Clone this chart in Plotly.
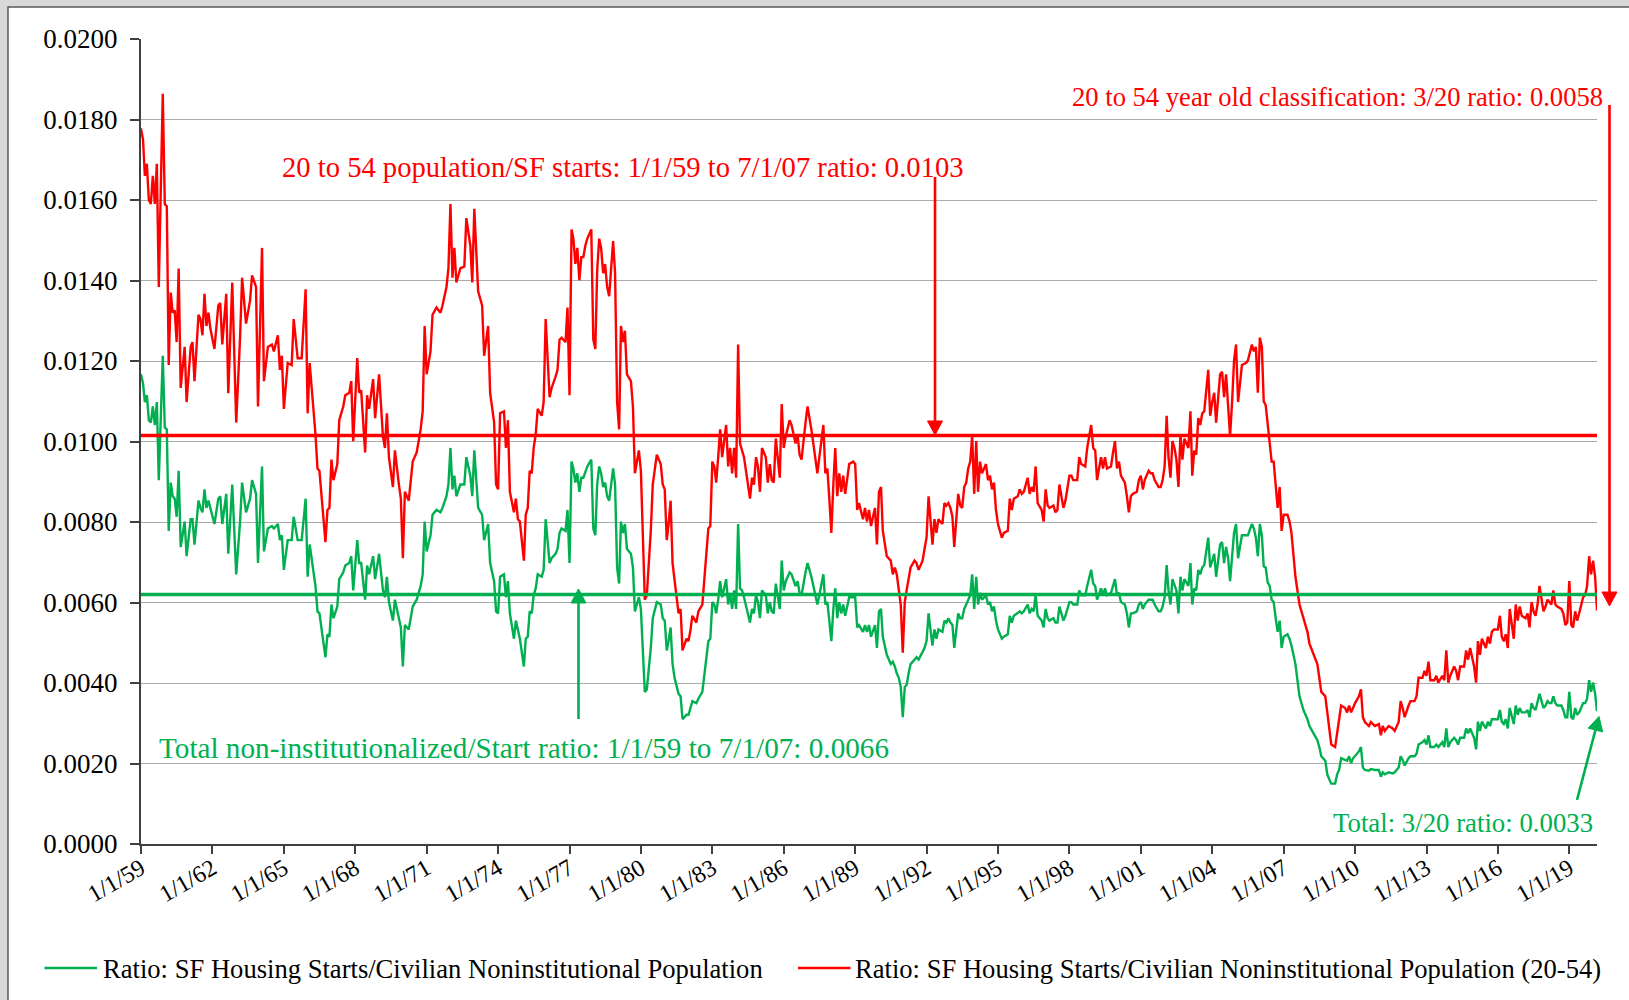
import plotly.graph_objects as go

# ---------------- data ----------------
# monthly observations (values are the ratio x 1000)
dates = [
    "1959-01","1959-02","1959-03","1959-04","1959-05","1959-06","1959-07","1959-08","1959-09","1959-10","1959-12",
    "1960-01","1960-02","1960-03","1960-04","1960-05","1960-06","1960-07","1960-08","1960-09","1960-11","1960-12",
    "1961-02","1961-03","1961-04","1961-06","1961-07","1961-08","1961-09","1961-10","1961-11","1961-12",
    "1962-02","1962-04","1962-05","1962-06","1962-08","1962-09","1962-11",
    "1963-01","1963-03","1963-04","1963-06","1963-08","1963-09","1963-11","1963-12",
    "1964-02","1964-03","1964-05","1964-07","1964-08","1964-10","1964-11","1964-12",
    "1965-01","1965-03","1965-05","1965-06","1965-08","1965-10","1965-12",
    "1966-01","1966-02","1966-05","1966-06","1966-07","1966-10","1966-11","1966-12",
    "1967-01","1967-02","1967-04","1967-05","1967-07","1967-08","1967-10","1967-11","1967-12",
    "1968-02","1968-03","1968-04","1968-06","1968-07","1968-08","1968-10","1968-11",
    "1969-01","1969-03","1969-04","1969-05","1969-06","1969-08","1969-09","1969-11","1969-12",
    "1970-01","1970-02","1970-04","1970-06","1970-08","1970-10","1970-11","1970-12",
    "1971-01","1971-03","1971-04","1971-06","1971-08","1971-09","1971-11","1971-12",
    "1972-01","1972-02","1972-03","1972-04","1972-06","1972-08","1972-09","1972-11","1972-12",
    "1973-01","1973-03","1973-05","1973-06","1973-08","1973-09","1973-11","1973-12",
    "1974-01","1974-02","1974-04","1974-05","1974-06","1974-07","1974-09","1974-10","1974-11","1974-12",
    "1975-02","1975-03","1975-04","1975-05","1975-06","1975-07","1975-08","1975-09","1975-11","1975-12",
    "1976-01","1976-03","1976-04","1976-06","1976-07","1976-08","1976-09","1976-11","1976-12",
    "1977-01","1977-02","1977-03","1977-04","1977-05","1977-06","1977-07","1977-08","1977-09","1977-10","1977-12",
    "1978-01","1978-02","1978-03","1978-04","1978-05","1978-06","1978-07","1978-08","1978-09","1978-11","1978-12",
    "1979-01","1979-02","1979-03","1979-04","1979-05","1979-06","1979-08","1979-09","1979-10","1979-12",
    "1980-01","1980-02","1980-03","1980-04","1980-06","1980-07","1980-09","1980-11","1980-12",
    "1981-01","1981-02","1981-03","1981-04","1981-05","1981-06","1981-08","1981-09","1981-10","1981-12",
    "1982-01","1982-02","1982-03","1982-05","1982-06","1982-08","1982-09","1982-11","1982-12",
    "1983-01","1983-02","1983-03","1983-04","1983-05","1983-06","1983-08","1983-09","1983-10","1983-11","1983-12",
    "1984-01","1984-02","1984-03","1984-04","1984-05","1984-07","1984-08","1984-09","1984-10","1984-11","1984-12",
    "1985-01","1985-02","1985-04","1985-05","1985-06","1985-07","1985-08","1985-09","1985-11","1985-12",
    "1986-01","1986-02","1986-04","1986-05","1986-07","1986-08","1986-09","1986-10","1986-12",
    "1987-01","1987-03","1987-04","1987-05","1987-06","1987-07","1987-09","1987-10","1987-11","1987-12",
    "1988-01","1988-02","1988-03","1988-04","1988-05","1988-06","1988-07","1988-08","1988-09","1988-10","1988-12",
    "1989-01","1989-02","1989-03","1989-05","1989-06","1989-07","1989-08","1989-09","1989-11","1989-12",
    "1990-01","1990-02","1990-03","1990-05","1990-07","1990-08","1990-09","1990-10","1990-11","1990-12",
    "1991-01","1991-02","1991-03","1991-04","1991-05","1991-07","1991-08","1991-09","1991-11","1991-12",
    "1992-01","1992-02","1992-03","1992-04","1992-05","1992-06","1992-07","1992-09","1992-10","1992-11","1992-12",
    "1993-01","1993-02","1993-03","1993-05","1993-06","1993-07","1993-08","1993-09","1993-10","1993-11","1993-12",
    "1994-01","1994-02","1994-03","1994-04","1994-05","1994-07","1994-08","1994-09","1994-10","1994-11","1994-12",
    "1995-01","1995-03","1995-04","1995-06","1995-07","1995-08","1995-09","1995-11","1995-12",
    "1996-01","1996-02","1996-04","1996-05","1996-06","1996-07","1996-08","1996-09","1996-11","1996-12",
    "1997-01","1997-02","1997-03","1997-05","1997-06","1997-07","1997-08","1997-10","1997-11",
    "1998-01","1998-02","1998-03","1998-05","1998-06","1998-07","1998-09","1998-10","1998-11","1998-12",
    "1999-01","1999-02","1999-03","1999-05","1999-06","1999-07","1999-08","1999-10","1999-11","1999-12",
    "2000-01","2000-02","2000-03","2000-05","2000-06","2000-07","2000-08","2000-09","2000-11","2000-12",
    "2001-01","2001-02","2001-03","2001-05","2001-06","2001-07","2001-08","2001-10","2001-11","2001-12",
    "2002-01","2002-02","2002-03","2002-04","2002-05","2002-06","2002-07","2002-08","2002-09","2002-10","2002-11",
    "2003-01","2003-02","2003-03","2003-04","2003-05","2003-06","2003-07","2003-08","2003-09","2003-11","2003-12",
    "2004-01","2004-02","2004-03","2004-05","2004-06","2004-07","2004-08","2004-09","2004-10","2004-11","2004-12",
    "2005-01","2005-02","2005-04","2005-06","2005-07","2005-09","2005-10","2005-11","2005-12",
    "2006-01","2006-02","2006-03","2006-04","2006-05","2006-06","2006-07","2006-08","2006-09","2006-10","2006-11","2006-12",
    "2007-01","2007-03","2007-04","2007-05","2007-07","2007-08","2007-09","2007-11",
    "2008-01","2008-02","2008-04","2008-06","2008-07","2008-08","2008-10","2008-11","2008-12",
    "2009-01","2009-03","2009-04","2009-05","2009-06","2009-08","2009-09","2009-10","2009-11","2009-12",
    "2010-01","2010-03","2010-04","2010-05","2010-06","2010-08","2010-09","2010-11",
    "2011-01","2011-02","2011-03","2011-04","2011-06","2011-08","2011-09","2011-11","2011-12",
    "2012-01","2012-02","2012-04","2012-05","2012-07","2012-08","2012-09","2012-11","2012-12",
    "2013-01","2013-02","2013-03","2013-05","2013-06","2013-07","2013-09","2013-10","2013-11","2013-12",
    "2014-01","2014-03","2014-04","2014-05","2014-06","2014-08","2014-09","2014-10","2014-11",
    "2015-01","2015-02","2015-03","2015-04","2015-05","2015-07","2015-08","2015-09","2015-10","2015-11",
    "2016-01","2016-02","2016-03","2016-04","2016-05","2016-06","2016-07","2016-09","2016-10","2016-11","2016-12",
    "2017-01","2017-03","2017-04","2017-05","2017-06","2017-07","2017-08","2017-09","2017-10","2017-12",
    "2018-01","2018-02","2018-03","2018-04","2018-05","2018-06","2018-07","2018-09","2018-10","2018-11","2018-12",
    "2019-01","2019-02","2019-03","2019-04","2019-05","2019-06","2019-07","2019-08","2019-09","2019-10","2019-11","2019-12",
    "2020-01","2020-02","2020-03",
]

green_x1000 = [
    11.67,11.44,10.98,11.15,10.53,10.47,10.87,10.41,10.98,9.04,12.13,
    10.35,10.30,7.78,8.98,8.64,8.58,8.13,9.27,7.38,8.01,7.15,
    8.07,8.07,7.44,8.53,8.35,8.24,8.81,8.35,8.53,8.35,
    7.95,8.58,8.64,7.95,8.70,7.21,8.93,
    6.70,8.01,8.98,8.24,8.58,9.04,8.70,6.98,
    9.38,7.27,7.84,7.90,7.84,7.95,7.55,7.67,
    6.81,7.55,7.55,8.13,7.55,7.55,8.58,
    6.64,7.44,6.41,5.78,5.73,4.64,5.21,5.15,
    5.95,5.61,5.90,6.58,6.75,6.92,6.98,7.15,6.30,
    7.55,6.98,6.98,6.07,6.92,6.70,7.15,6.58,
    7.21,6.30,6.13,6.64,6.01,5.55,6.07,5.61,5.38,
    4.41,5.44,5.33,5.90,6.07,6.41,6.70,8.01,
    7.27,7.67,8.18,8.30,8.24,8.35,8.64,8.93,
    9.84,8.81,9.15,8.64,8.93,8.93,9.61,9.15,8.64,
    9.78,8.35,8.18,7.55,7.95,6.98,6.53,5.78,
    5.73,6.64,6.70,6.13,6.53,5.73,5.10,5.55,5.27,5.10,
    4.41,5.10,5.15,5.78,5.73,6.18,6.35,6.70,6.64,6.81,
    8.07,6.98,7.10,7.21,7.33,7.73,7.84,7.78,8.30,
    6.98,9.50,9.33,8.98,9.21,8.75,9.10,9.10,9.27,9.38,9.55,
    7.84,7.67,8.93,9.38,9.21,8.87,8.98,8.64,8.53,9.33,8.93,
    6.87,6.47,8.01,7.73,7.95,7.33,7.21,6.87,5.78,6.13,
    5.84,4.70,3.78,3.84,4.87,5.61,6.01,5.95,5.61,
    5.55,4.81,5.04,5.38,4.47,4.13,3.73,3.67,3.10,3.21,
    3.21,3.38,3.55,3.50,3.61,3.78,4.24,5.04,5.10,
    6.01,5.95,5.73,6.07,6.53,6.13,6.58,5.95,6.24,5.84,6.30,
    5.84,7.95,6.35,6.30,6.13,5.73,5.50,5.84,5.73,6.18,6.01,
    5.61,6.30,6.18,5.73,6.01,5.78,5.73,6.47,5.84,7.04,
    6.30,6.53,6.75,6.70,6.41,6.53,6.24,6.18,6.75,
    6.98,6.64,6.41,6.13,5.95,6.18,6.70,5.95,6.01,5.55,
    5.04,5.84,6.35,5.61,6.01,5.73,5.95,5.67,5.95,6.13,6.13,
    6.13,5.38,5.44,5.27,5.44,5.27,5.44,5.15,5.44,4.87,
    5.78,5.84,5.15,4.70,4.47,4.53,4.41,4.24,4.13,3.90,
    3.15,3.90,3.95,4.24,4.47,4.58,4.64,4.58,4.75,4.87,
    5.04,5.73,5.33,4.93,5.33,5.10,5.33,5.27,5.55,5.50,5.61,
    5.50,5.44,4.87,5.73,5.61,5.61,5.84,5.95,6.07,6.18,6.70,
    5.84,6.64,5.95,6.24,6.07,6.18,5.95,6.01,5.78,5.90,5.55,
    5.33,5.10,5.15,5.21,5.67,5.50,5.67,5.73,5.78,
    5.73,5.78,5.95,5.73,5.84,5.78,6.18,5.67,5.55,5.38,
    5.84,5.61,5.55,5.61,5.50,5.50,5.90,5.55,5.67,
    6.01,6.01,5.95,5.95,6.30,6.18,6.18,6.41,6.64,6.81,
    6.47,6.41,6.07,6.35,6.18,6.35,6.18,6.24,6.41,6.58,
    6.18,6.24,6.01,5.95,5.73,5.38,5.73,5.73,5.78,5.95,
    6.01,5.84,5.95,6.07,6.07,6.07,5.95,5.78,5.78,5.90,
    6.13,6.93,6.30,5.95,6.58,6.41,6.30,5.73,6.64,6.30,6.58,
    6.41,6.98,5.95,6.35,6.30,6.81,6.70,6.87,6.93,7.61,6.87,
    7.04,7.21,6.64,7.44,7.50,6.98,7.38,7.10,6.53,7.10,7.73,
    7.95,7.10,7.67,7.67,7.67,7.95,7.84,7.61,7.15,
    7.95,7.67,6.90,6.87,6.50,6.41,6.07,6.01,5.61,5.27,5.55,4.87,
    5.15,5.21,5.10,4.93,4.47,4.13,3.67,3.33,
    3.10,2.93,2.75,2.58,2.41,2.18,2.07,1.73,1.61,
    1.50,1.50,1.73,1.84,2.13,2.09,2.07,2.18,2.01,2.13,
    2.18,2.30,2.41,1.90,1.84,1.82,1.86,1.84,
    1.84,1.67,1.78,1.73,1.78,1.75,1.78,1.90,2.18,
    2.09,1.95,2.13,2.18,2.18,2.24,2.47,2.53,2.58,
    2.47,2.70,2.41,2.41,2.47,2.41,2.53,2.41,2.87,2.41,
    2.53,2.64,2.58,2.47,2.64,2.64,2.87,2.75,2.87,
    2.64,2.35,3.04,2.81,3.04,2.87,3.04,2.93,3.10,3.10,
    3.10,3.33,3.04,2.98,3.10,2.87,3.38,2.98,3.44,3.21,3.38,
    3.27,3.27,3.33,3.15,3.50,3.38,3.33,3.50,3.73,3.38,
    3.44,3.55,3.50,3.50,3.67,3.50,3.44,3.44,3.33,3.15,3.15,
    3.78,3.15,3.10,3.38,3.21,3.27,3.38,3.50,3.50,3.61,4.07,3.78,
    4.01,3.73,3.30,
]

red_x1000 = [
    17.78,17.50,16.60,16.90,16.00,15.90,16.60,15.90,16.90,13.84,18.64,
    15.90,15.84,11.90,13.70,13.20,13.26,12.47,14.30,11.33,12.35,10.98,
    12.35,12.47,11.50,13.15,13.04,12.64,13.67,12.87,13.20,12.80,
    12.30,13.38,13.44,12.41,13.67,11.20,13.95,
    10.47,12.58,14.07,12.93,13.50,14.13,13.84,10.87,
    14.81,11.50,12.35,12.41,12.24,12.64,11.78,12.13,
    10.81,11.95,11.90,13.04,12.07,12.07,13.78,
    10.70,11.95,10.18,9.33,9.27,7.50,8.30,8.35,
    9.55,9.04,9.44,10.53,10.87,11.15,11.21,11.50,10.01,
    12.07,11.21,11.27,9.73,11.15,10.81,11.55,10.58,
    11.67,10.13,9.84,10.70,9.61,8.87,9.78,8.93,8.58,
    7.10,8.75,8.53,9.50,9.73,10.30,10.75,12.87,
    11.67,12.24,13.15,13.33,13.20,13.38,13.84,14.30,
    15.90,14.07,14.81,13.95,14.30,14.35,15.55,14.87,13.95,
    15.78,13.73,13.38,12.13,12.87,11.21,10.47,8.93,
    8.81,10.70,10.75,9.84,10.53,8.75,8.24,8.58,8.07,8.01,
    7.04,8.18,8.35,9.27,9.21,9.84,10.18,10.81,10.64,10.98,
    13.04,11.10,11.33,11.61,11.78,12.53,12.58,12.47,13.33,
    11.15,15.27,15.04,14.41,14.81,14.01,14.58,14.58,14.87,15.04,15.27,
    12.53,12.30,14.24,15.04,14.81,14.18,14.41,13.84,13.61,14.98,14.18,
    10.98,10.30,12.87,12.47,12.75,11.67,11.50,10.87,9.21,9.78,
    9.27,7.55,6.07,6.18,7.78,8.93,9.67,9.44,8.93,
    8.81,7.55,7.95,8.53,6.98,6.53,5.73,5.84,4.81,5.10,
    5.04,5.33,5.67,5.50,5.78,5.95,6.64,7.84,7.90,
    9.50,9.38,8.98,9.61,10.30,9.61,10.41,9.38,9.84,9.21,9.84,
    9.10,12.41,9.95,9.78,9.61,8.93,8.58,9.10,8.93,9.61,9.38,
    8.75,9.84,9.61,8.98,9.44,9.04,8.98,10.07,9.10,10.93,
    9.84,10.13,10.53,10.41,9.95,10.18,9.67,9.55,10.47,
    10.87,10.30,9.95,9.50,9.21,9.61,10.41,9.21,9.33,8.58,
    7.73,8.93,9.84,8.64,9.21,8.75,9.15,8.70,9.15,9.44,9.50,
    9.44,8.30,8.47,8.07,8.35,8.01,8.30,7.90,8.35,7.44,
    8.75,8.87,7.78,7.15,7.04,6.70,6.87,6.70,6.30,5.95,
    4.75,6.01,6.30,6.64,6.87,7.04,6.98,6.81,7.04,7.33,
    7.61,8.64,8.01,7.44,8.07,7.73,8.07,7.95,8.47,8.41,8.47,
    8.35,8.13,7.38,8.70,8.41,8.35,8.87,8.98,9.33,9.50,10.13,
    8.70,10.01,8.75,9.50,9.21,9.44,9.04,9.15,8.81,8.98,8.30,
    7.95,7.61,7.73,7.78,8.58,8.30,8.58,8.64,8.81,
    8.70,8.75,9.10,8.70,8.87,8.75,9.38,8.47,8.30,8.01,
    8.81,8.41,8.35,8.41,8.24,8.30,8.93,8.35,8.53,
    9.15,9.15,9.04,9.04,9.61,9.44,9.38,9.84,10.18,10.41,
    9.84,9.78,9.04,9.61,9.33,9.61,9.33,9.38,9.73,10.01,
    9.33,9.50,9.15,8.98,8.64,8.24,8.64,8.70,8.75,9.04,
    9.15,8.81,9.04,9.27,9.21,9.21,9.04,8.87,8.87,9.04,
    9.38,10.64,9.61,9.10,10.01,9.84,9.55,8.87,10.18,9.55,10.07,
    9.84,10.75,9.15,9.78,9.67,10.58,10.41,10.70,10.75,11.78,10.64,
    10.98,11.21,10.47,11.67,11.73,11.10,11.67,10.75,10.13,10.98,12.01,
    12.41,10.98,11.90,11.95,12.01,12.41,12.24,12.35,11.21,
    12.58,12.35,11.00,10.90,10.40,9.95,9.50,9.50,8.93,8.35,8.87,7.78,
    8.18,8.18,8.01,7.73,6.64,6.30,5.95,5.61,
    5.27,4.98,4.70,4.47,4.13,3.78,3.67,3.21,2.87,
    2.47,2.41,2.75,2.98,3.44,3.38,3.27,3.44,3.27,3.38,
    3.50,3.67,3.84,3.15,3.03,2.93,3.03,2.93,
    2.98,2.70,2.93,2.81,2.93,2.87,2.81,3.03,3.55,
    3.38,3.15,3.44,3.55,3.55,3.67,4.13,4.13,4.30,
    4.18,4.53,4.07,4.07,4.18,4.01,4.18,4.07,4.81,4.01,
    4.18,4.41,4.30,4.07,4.41,4.41,4.81,4.58,4.87,
    4.41,4.01,5.04,4.70,5.10,4.87,5.15,4.98,5.27,5.33,
    5.33,5.67,5.15,5.04,5.21,4.87,5.84,5.10,5.95,5.55,5.90,
    5.67,5.61,5.73,5.38,6.01,5.78,5.67,5.95,6.41,5.78,
    5.90,6.07,6.01,5.95,6.30,5.95,5.90,5.84,5.73,5.44,5.50,
    6.53,5.44,5.38,5.78,5.55,5.73,5.90,6.13,6.18,6.41,7.15,6.70,
    7.04,6.64,5.80,
]

assert len(dates) == len(green_x1000) == len(red_x1000), (len(dates), len(green_x1000), len(red_x1000))

# average reference levels, as drawn
red_avg_level = 0.01015
green_avg_level = 0.0062

series_names = [
    "Ratio: SF Housing Starts/Civilian Noninstitutional Population",
    "Ratio: SF Housing Starts/Civilian Noninstitutional Population (20-54)",
]

x_tick_dates = ["1959-01-01", "1962-01-01", "1965-01-01", "1968-01-01", "1971-01-01",
                "1974-01-01", "1977-01-01", "1980-01-01", "1983-01-01", "1986-01-01",
                "1989-01-01", "1992-01-01", "1995-01-01", "1998-01-01", "2001-01-01",
                "2004-01-01", "2007-01-01", "2010-01-01", "2013-01-01", "2016-01-01",
                "2019-01-01"]
x_tick_labels = ["1/1/59", "1/1/62", "1/1/65", "1/1/68", "1/1/71", "1/1/74", "1/1/77",
                 "1/1/80", "1/1/83", "1/1/86", "1/1/89", "1/1/92", "1/1/95", "1/1/98",
                 "1/1/01", "1/1/04", "1/1/07", "1/1/10", "1/1/13", "1/1/16", "1/1/19"]
y_tick_vals = [0.0, 0.002, 0.004, 0.006, 0.008, 0.010, 0.012, 0.014, 0.016, 0.018, 0.020]
y_tick_labels = ["0.0000", "0.0020", "0.0040", "0.0060", "0.0080", "0.0100",
                 "0.0120", "0.0140", "0.0160", "0.0180", "0.0200"]

note_red_avg = "20 to 54 population/SF starts: 1/1/59 to 7/1/07 ratio: 0.0103"
note_red_now = "20 to 54 year old classification: 3/20 ratio: 0.0058"
note_green_avg = "Total non-institutionalized/Start ratio: 1/1/59 to 7/1/07: 0.0066"
note_green_now = "Total: 3/20 ratio: 0.0033"

# ---------------- styling ----------------
RED = "#FF0000"
GREEN = "#00B050"
FONT = "Liberation Serif, Times New Roman, serif"
FIG_W, FIG_H = 1629, 1000
L, R, T, B = 141, 1597, 39, 844


def fx(px):
    return (px - L) / (R - L)


def fy(py):
    return (B - py) / (B - T)


green_vals = [v / 1000 for v in green_x1000]
red_vals = [v / 1000 for v in red_x1000]

fig = go.Figure()
fig.add_trace(go.Scatter(x=dates, y=green_vals, mode="lines", name=series_names[0],
                         showlegend=False, line=dict(color=GREEN, width=2.4)))
fig.add_trace(go.Scatter(x=dates, y=red_vals, mode="lines", name=series_names[1],
                         showlegend=False, line=dict(color=RED, width=2.4)))
fig.add_trace(go.Scatter(x=[dates[0], dates[-1]], y=[red_avg_level, red_avg_level],
                         mode="lines", showlegend=False, hoverinfo="skip",
                         line=dict(color=RED, width=3.5)))
fig.add_trace(go.Scatter(x=[dates[0], dates[-1]], y=[green_avg_level, green_avg_level],
                         mode="lines", showlegend=False, hoverinfo="skip",
                         line=dict(color=GREEN, width=3.5)))

shapes = []
# page frame
shapes.append(dict(type="rect", xref="paper", yref="paper", layer="below",
                   x0=fx(8), x1=fx(1660), y0=fy(1030), y1=fy(7),
                   fillcolor="white", line=dict(color="#5a5a5a", width=1.5)))


def arrow(x0, y0, x1, y1, color, head_len=14, head_half=7.5, width=2.6):
    dx, dy = x1 - x0, y1 - y0
    n = (dx * dx + dy * dy) ** 0.5
    ux, uy = dx / n, dy / n
    bx, by = x1 - ux * head_len, y1 - uy * head_len
    px_, py_ = -uy, ux
    out = [dict(type="line", xref="paper", yref="paper",
                x0=fx(x0), y0=fy(y0), x1=fx(bx + ux * 2), y1=fy(by + uy * 2),
                line=dict(color=color, width=width))]
    path = "M {:.6f},{:.6f} L {:.6f},{:.6f} L {:.6f},{:.6f} Z".format(
        fx(x1), fy(y1),
        fx(bx + px_ * head_half), fy(by + py_ * head_half),
        fx(bx - px_ * head_half), fy(by - py_ * head_half))
    out.append(dict(type="path", xref="paper", yref="paper", path=path,
                    fillcolor=color, line=dict(color=color, width=1)))
    return out


shapes += arrow(935, 177, 935, 435, RED)
shapes += arrow(1609.5, 105, 1609.5, 606, RED)
shapes += arrow(578.5, 719, 578.5, 589, GREEN)
shapes += arrow(1577, 800, 1599, 716.5, GREEN)

# legend keys (line samples)
LEG_Y = 968
shapes.append(dict(type="line", xref="paper", yref="paper",
                   x0=fx(44.5), x1=fx(97), y0=fy(LEG_Y), y1=fy(LEG_Y),
                   line=dict(color=GREEN, width=2.6)))
shapes.append(dict(type="line", xref="paper", yref="paper",
                   x0=fx(798), x1=fx(850.5), y0=fy(LEG_Y), y1=fy(LEG_Y),
                   line=dict(color=RED, width=2.6)))

annotations = [
    dict(text=note_red_avg, x=fx(280), y=fy(168), xanchor="left", yanchor="middle",
         font=dict(color=RED, size=28.6, family=FONT)),
    dict(text=note_red_now, x=fx(1605), y=fy(97), xanchor="right", yanchor="middle",
         font=dict(color=RED, size=26.6, family=FONT)),
    dict(text=note_green_avg, x=fx(157), y=fy(748), xanchor="left", yanchor="middle",
         font=dict(color=GREEN, size=29.2, family=FONT)),
    dict(text=note_green_now, x=fx(1595), y=fy(823), xanchor="right", yanchor="middle",
         font=dict(color=GREEN, size=26.8, family=FONT)),
    # legend labels
    dict(text=series_names[0], x=fx(101), y=fy(LEG_Y + 1), xanchor="left", yanchor="middle",
         font=dict(color="black", size=26.6, family=FONT)),
    dict(text=series_names[1], x=fx(853), y=fy(LEG_Y + 1), xanchor="left", yanchor="middle",
         font=dict(color="black", size=26.6, family=FONT)),
]
for a in annotations:
    a.update(xref="paper", yref="paper", showarrow=False)

fig.update_layout(
    width=FIG_W, height=FIG_H,
    margin=dict(l=L, r=FIG_W - R, t=T, b=FIG_H - B, pad=0),
    paper_bgcolor="#d8d8d8",
    plot_bgcolor="white",
    font=dict(family=FONT, color="black", size=26),
    shapes=shapes,
    annotations=annotations,
    showlegend=False,
    xaxis=dict(type="date", range=["1959-01-01", "2020-03-01"],
               tickmode="array", tickvals=x_tick_dates, ticktext=x_tick_labels,
               tickangle=-30, tickfont=dict(size=24, family=FONT, color="black"),
               showgrid=False, zeroline=False, automargin=False,
               showline=True, linecolor="#404040", linewidth=2,
               ticks="outside", ticklen=8, tickwidth=1.5, tickcolor="#404040",
               ticklabelstandoff=-9),
    yaxis=dict(range=[0, 0.0200001], tickmode="array", tickvals=y_tick_vals,
               ticktext=y_tick_labels, automargin=False,
               tickfont=dict(size=27, family=FONT, color="black"),
               showgrid=True, gridcolor="#ababab", gridwidth=1.3, zeroline=False,
               showline=True, linecolor="#404040", linewidth=2,
               ticks="outside", ticklen=9, tickwidth=1.5, tickcolor="#404040",
               ticklabelstandoff=7),
)

fig.write_html("out.html", config={"displayModeBar": False},
               post_script="document.body.style.margin='0';")
